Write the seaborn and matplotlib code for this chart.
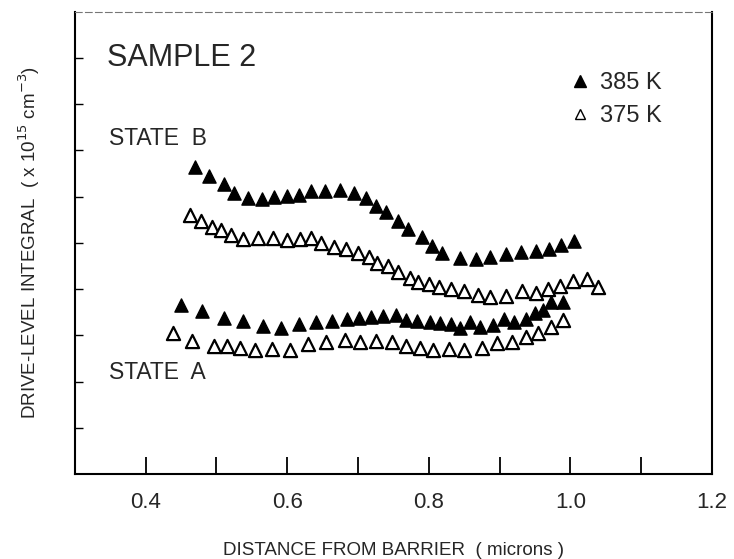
import matplotlib
matplotlib.use("Agg")
import matplotlib.pyplot as plt
from matplotlib.lines import Line2D
import seaborn as sns
import pandas as pd

# ---- data ----
b385_x = [0.469, 0.490, 0.510, 0.525, 0.544, 0.564, 0.581, 0.599, 0.617, 0.634,
          0.654, 0.675, 0.694, 0.711, 0.726, 0.740, 0.756, 0.771, 0.790, 0.805,
          0.818, 0.844, 0.867, 0.887, 0.909, 0.930, 0.951, 0.970, 0.987, 1.005]
b385_y = [6.65, 6.44, 6.28, 6.08, 5.97, 5.95, 6.00, 6.02, 6.04, 6.13,
          6.13, 6.15, 6.08, 5.98, 5.79, 5.66, 5.48, 5.30, 5.12, 4.94,
          4.78, 4.67, 4.65, 4.69, 4.76, 4.81, 4.83, 4.87, 4.96, 5.03]

b375_x = [0.462, 0.478, 0.494, 0.507, 0.520, 0.538, 0.559, 0.580, 0.599, 0.618,
          0.633, 0.648, 0.666, 0.683, 0.700, 0.715, 0.727, 0.742, 0.757, 0.774,
          0.785, 0.800, 0.814, 0.832, 0.850, 0.869, 0.887, 0.909, 0.931, 0.951,
          0.969, 0.986, 1.004, 1.023, 1.039]
b375_y = [5.61, 5.48, 5.35, 5.28, 5.17, 5.08, 5.10, 5.10, 5.06, 5.08,
          5.10, 4.99, 4.92, 4.87, 4.79, 4.69, 4.57, 4.49, 4.38, 4.25,
          4.16, 4.11, 4.05, 4.00, 3.95, 3.87, 3.82, 3.86, 3.95, 3.91,
          4.00, 4.07, 4.18, 4.22, 4.05]

a385_x = [0.450, 0.479, 0.510, 0.538, 0.566, 0.591, 0.616, 0.641, 0.663, 0.685,
          0.702, 0.718, 0.735, 0.753, 0.768, 0.784, 0.801, 0.816, 0.831, 0.844,
          0.858, 0.873, 0.890, 0.906, 0.920, 0.937, 0.950, 0.962, 0.973, 0.990]
a385_y = [3.66, 3.53, 3.37, 3.30, 3.20, 3.15, 3.24, 3.28, 3.32, 3.35,
          3.38, 3.40, 3.42, 3.43, 3.33, 3.30, 3.28, 3.26, 3.25, 3.15,
          3.28, 3.19, 3.23, 3.35, 3.28, 3.35, 3.48, 3.55, 3.73, 3.73]

a375_x = [0.438, 0.466, 0.496, 0.515, 0.533, 0.554, 0.579, 0.604, 0.629, 0.655,
          0.681, 0.703, 0.726, 0.748, 0.768, 0.787, 0.806, 0.828, 0.849, 0.875,
          0.896, 0.917, 0.937, 0.954, 0.972, 0.990]
a375_y = [3.06, 2.88, 2.77, 2.77, 2.72, 2.68, 2.70, 2.68, 2.81, 2.86,
          2.89, 2.86, 2.88, 2.86, 2.77, 2.72, 2.68, 2.70, 2.68, 2.73,
          2.83, 2.86, 2.97, 3.06, 3.17, 3.33]

x_ticks = [0.4, 0.6, 0.8, 1.0, 1.2]
x_tick_labels = ["0.4", "0.6", "0.8", "1.0", "1.2"]
x_minor = [0.5, 0.7, 0.9, 1.1]
y_ticks = [1, 2, 3, 4, 5, 6, 7, 8, 9]

sns.set_theme(style="white")
plt.rcParams['font.family'] = ['Liberation Sans', 'DejaVu Sans']

fig = plt.figure(figsize=(7.34, 5.59), dpi=100)
ax = fig.add_axes([0.102, 0.152, 0.868, 0.827])

ms = 90
for xs, ys in [(b385_x, b385_y), (a385_x, a385_y)]:
    sns.scatterplot(x=xs, y=ys, ax=ax, marker="^", s=ms, color="black",
                    edgecolor="black", linewidth=1.0, zorder=3)
for xs, ys in [(b375_x, b375_y), (a375_x, a375_y)]:
    sns.scatterplot(x=xs, y=ys, ax=ax, marker="^", s=ms, facecolor="white",
                    edgecolor="black", linewidth=1.6, zorder=3)

ax.set_xlim(0.3, 1.2)
ax.set_ylim(0, 10)
ax.set_xticks(x_ticks)
ax.set_xticklabels(x_tick_labels, fontsize=16)
ax.set_xticks(x_minor, minor=True)
ax.set_yticks(y_ticks)
ax.set_yticklabels([])
ax.tick_params(axis="x", which="both", direction="in", length=12, width=1.3,
               color="black", bottom=True, pad=13)
ax.tick_params(axis="y", direction="in", length=6, width=1.0, color="black", left=True)

for side in ["left", "bottom", "right"]:
    ax.spines[side].set_color("black")
    ax.spines[side].set_linewidth(1.5)
ax.spines["top"].set_color("#777777")
ax.spines["top"].set_linewidth(0.8)
ax.spines["top"].set_linestyle((0, (6, 3)))

ax.set_xlabel("DISTANCE FROM BARRIER  ( microns )", fontsize=13.5, labelpad=21)
ax.set_ylabel("DRIVE-LEVEL INTEGRAL  ( x 10$^{15}$ cm$^{-3}$)", fontsize=13.5, labelpad=20)

ax.text(0.345, 9.0, "SAMPLE 2", fontsize=22, va="center", ha="left")
ax.text(0.348, 7.25, "STATE  B", fontsize=16.5, va="center", ha="left")
ax.text(0.348, 2.2, "STATE  A", fontsize=16.5, va="center", ha="left")

handles = [
    Line2D([], [], marker="^", linestyle="none", markersize=8,
           markerfacecolor="black", markeredgecolor="black", label="385 K"),
    Line2D([], [], marker="^", linestyle="none", markersize=7,
           markerfacecolor="white", markeredgecolor="black", markeredgewidth=1.0,
           label="375 K"),
]
ax.legend(handles=handles, loc="upper right", bbox_to_anchor=(0.955, 0.915),
          frameon=False, fontsize=17, handletextpad=0.35, labelspacing=0.45,
          handlelength=1.0)

fig.savefig("out.png", dpi=100)
